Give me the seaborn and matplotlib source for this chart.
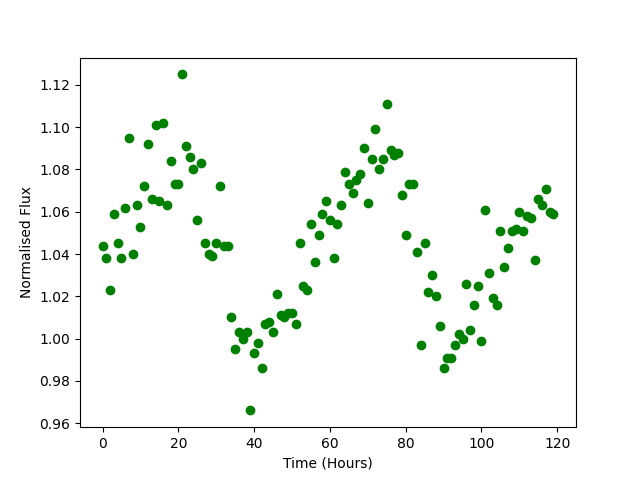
import numpy as np
import pandas as pd
import matplotlib
matplotlib.use("Agg")
import matplotlib.pyplot as plt
import seaborn as sns

# hourly samples
hours = list(range(120))
flux = [
    1.044, 1.038, 1.023, 1.059, 1.045, 1.038, 1.062, 1.095, 1.040, 1.063,
    1.053, 1.072, 1.092, 1.066, 1.101, 1.065, 1.102, 1.063, 1.084, 1.073,
    1.073, 1.125, 1.091, 1.086, 1.080, 1.056, 1.083, 1.045, 1.040, 1.039,
    1.045, 1.072, 1.044, 1.044, 1.010, 0.995, 1.003, 1.000, 1.003, 0.966,
    0.993, 0.998, 0.986, 1.007, 1.008, 1.003, 1.021, 1.011, 1.010, 1.012,
    1.012, 1.007, 1.045, 1.025, 1.023, 1.054, 1.036, 1.049, 1.059, 1.065,
    1.056, 1.038, 1.054, 1.063, 1.079, 1.073, 1.069, 1.075, 1.078, 1.090,
    1.064, 1.085, 1.099, 1.080, 1.085, 1.111, 1.089, 1.087, 1.088, 1.068,
    1.049, 1.073, 1.073, 1.041, 0.997, 1.045, 1.022, 1.030, 1.020, 1.006,
    0.986, 0.991, 0.991, 0.997, 1.002, 1.000, 1.026, 1.004, 1.016, 1.025,
    0.999, 1.061, 1.031, 1.019, 1.016, 1.051, 1.034, 1.043, 1.051, 1.052,
    1.060, 1.051, 1.058, 1.057, 1.037, 1.066, 1.063, 1.071, 1.060, 1.059,
]

df = pd.DataFrame({"Time": hours, "Flux": flux})

fig, ax = plt.subplots(figsize=(6.4, 4.8), dpi=100)
sns.scatterplot(data=df, x="Time", y="Flux", color="green", s=36,
                edgecolor="green", linewidth=1, ax=ax)
ax.set_xlabel("Time (Hours)")
ax.set_ylabel("Normalised Flux")
fig.savefig("out.png", dpi=100)
